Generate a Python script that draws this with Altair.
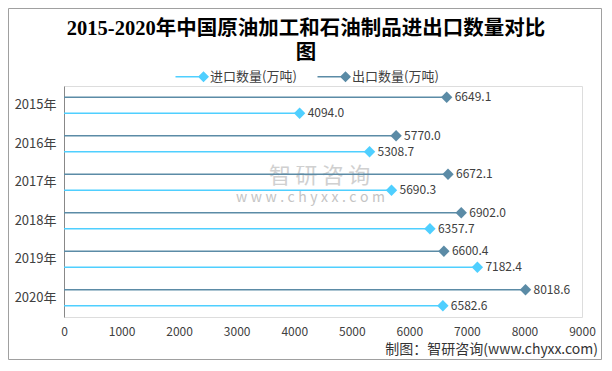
import altair as alt
import pandas as pd

years = ["2015年", "2016年", "2017年", "2018年", "2019年", "2020年"]
export_vals = [6649.1, 5770.0, 6672.1, 6902.0, 6600.4, 8018.6]
import_vals = [4094.0, 5308.7, 5690.3, 6357.7, 7182.4, 6582.6]
series = ["进口数量(万吨)", "出口数量(万吨)"]
colors = ["#4FCFFF", "#5B8BA6"]
x_ticks = [0, 1000, 2000, 3000, 4000, 5000, 6000, 7000, 8000, 9000]

rows = []
for i, y in enumerate(years):
    rows.append({"year": y, "series": series[1], "order": 0, "value": export_vals[i], "label": f"{export_vals[i]:.1f}"})
    rows.append({"year": y, "series": series[0], "order": 1, "value": import_vals[i], "label": f"{import_vals[i]:.1f}"})
df = pd.DataFrame(rows)

W, H = 518, 231
font = "Noto Sans CJK SC"

legend_path = "M-4,-0.15H1V0.15H-4Z M0.5,0L1.6,-1.1L2.7,0L1.6,1.1Z"

base = alt.Chart(df).encode(
    y=alt.Y("year:N", sort=years, title=None,
            scale=alt.Scale(paddingInner=0.0, paddingOuter=0.0),
            axis=alt.Axis(domain=True, domainColor="#888888", ticks=False, labelPadding=8,
                          labelFontSize=13, labelColor="#404040", labelFont=font)),
    yOffset=alt.YOffset("order:O", scale=alt.Scale(paddingOuter=0.5, paddingInner=0.6)),
)

x_enc = alt.X("value:Q", title=None,
              scale=alt.Scale(domain=[0, 9000], nice=False),
              axis=alt.Axis(values=x_ticks, domain=False, ticks=False, grid=False, labelPadding=9,
                            labelFlush=False, labelFontSize=12, labelColor="#404040",
                            labelFont=font, format="d"))
color_enc = alt.Color("series:N", scale=alt.Scale(domain=series, range=colors),
                      legend=alt.Legend(title=None, orient="none", direction="horizontal",
                                        legendX=125, legendY=-16,
                                        symbolType=legend_path, symbolSize=100,
                                        symbolStrokeWidth=0, labelFontSize=13, labelFont=font,
                                        labelColor="#404040", columnPadding=20, labelOffset=8))

bars = base.mark_bar(size=1.6).encode(x=x_enc, x2=alt.datum(0), color=color_enc)
pts = base.mark_point(shape="diamond", filled=True, size=130, opacity=1).encode(
    x="value:Q", color=alt.Color("series:N", legend=None))
labels = base.mark_text(align="left", dx=8, fontSize=12, font=font, color="#404040").encode(
    x="value:Q", text="label:N")

wm = alt.Chart(pd.DataFrame({"t": ["智\u2009研\u2009咨\u2009询"]})).mark_text(
    fontSize=22, font=font, color="#C8C8C8", opacity=0.85, align="left"
).encode(x=alt.value(205), y=alt.value(90), text="t:N")
wm2 = alt.Chart(pd.DataFrame({"t": ["\u2005".join("www.chyxx.com")]})).mark_text(
    fontSize=14, font=font, color="#C4C4C4", align="left"
).encode(x=alt.value(172), y=alt.value(112), text="t:N")
src = alt.Chart(pd.DataFrame({"t": ["制图：智研咨询(www.chyxx.com)"]})).mark_text(
    fontSize=14, font=font, color="#333333", align="right"
).encode(x=alt.value(W + 16), y=alt.value(H + 33), text="t:N")
border = alt.Chart(pd.DataFrame({"a": [0]})).mark_rect(
    fill=None, stroke="#A0A0A0", strokeWidth=1
).encode(x=alt.value(-55.5), x2=alt.value(W + 19.5), y=alt.value(-77.5), y2=alt.value(H + 42.5))

chart = alt.layer(border, wm, wm2, bars, pts, labels, src).properties(
    width=W, height=H,
    autosize=alt.AutoSizeParams(type="none"),
    padding={"left": 56, "top": 78, "right": 20, "bottom": 43},
    title=alt.Title(["2015-2020年中国原油加工和石油制品进出口数量对比", "图"],
                    fontSize=20.5, font="Liberation Serif, Noto Sans CJK SC", fontWeight="bold",
                    color="#000000", anchor="middle", lineHeight=24, offset=-55, dx=-17),
).configure_view(stroke=None).configure(background="white")

chart.save("out.html", embed_options={"renderer": "svg", "actions": False})
